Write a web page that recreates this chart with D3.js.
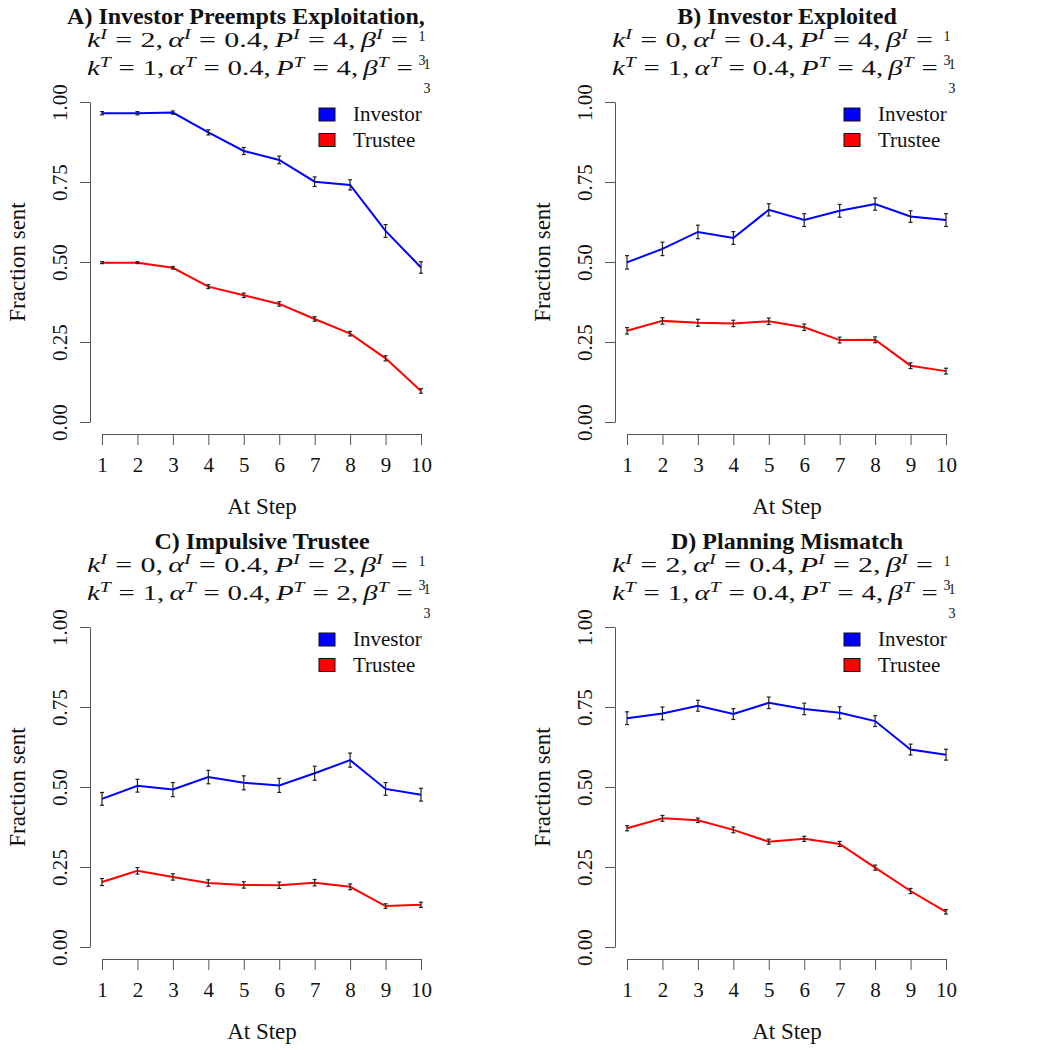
<!DOCTYPE html>
<html>
<head>
<meta charset="utf-8">
<script src="https://cdn.jsdelivr.net/npm/d3@7"></script>
<style>
  body { margin: 0; background: #fff; }
  text { font-family: "Liberation Serif", "Times New Roman", serif; fill: #111; }
</style>
</head>
<body>
<div id="wrapper"></div>
<script>
// data
const steps = [1, 2, 3, 4, 5, 6, 7, 8, 9, 10];
const yTicks = [0, 0.25, 0.5, 0.75, 1];

const investorA    = [0.965, 0.965, 0.967, 0.905, 0.847, 0.819, 0.751, 0.741, 0.597, 0.483];
const investorAErr = [0.005, 0.005, 0.005, 0.008, 0.011, 0.012, 0.015, 0.016, 0.020, 0.018];
const trusteeA     = [0.498, 0.498, 0.482, 0.423, 0.396, 0.369, 0.322, 0.276, 0.199, 0.097];
const trusteeAErr  = [0.003, 0.003, 0.004, 0.006, 0.007, 0.007, 0.007, 0.007, 0.008, 0.007];

const investorB    = [0.499, 0.541, 0.594, 0.575, 0.663, 0.631, 0.660, 0.681, 0.642, 0.631];
const investorBErr = [0.021, 0.021, 0.021, 0.020, 0.019, 0.020, 0.020, 0.019, 0.018, 0.020];
const trusteeB     = [0.285, 0.316, 0.310, 0.308, 0.315, 0.296, 0.256, 0.257, 0.176, 0.159];
const trusteeBErr  = [0.010, 0.010, 0.011, 0.010, 0.010, 0.010, 0.009, 0.009, 0.009, 0.009];

const investorC    = [0.463, 0.504, 0.492, 0.531, 0.513, 0.505, 0.543, 0.584, 0.494, 0.476];
const investorCErr = [0.020, 0.020, 0.022, 0.021, 0.022, 0.022, 0.022, 0.022, 0.020, 0.020];
const trusteeC     = [0.203, 0.238, 0.219, 0.200, 0.194, 0.193, 0.201, 0.188, 0.128, 0.132];
const trusteeCErr  = [0.011, 0.010, 0.010, 0.010, 0.010, 0.010, 0.010, 0.009, 0.007, 0.008];

const investorD    = [0.715, 0.730, 0.754, 0.728, 0.763, 0.744, 0.732, 0.706, 0.617, 0.601];
const investorDErr = [0.020, 0.020, 0.017, 0.017, 0.018, 0.018, 0.019, 0.017, 0.017, 0.017];
const trusteeD     = [0.371, 0.402, 0.396, 0.366, 0.329, 0.338, 0.322, 0.248, 0.175, 0.110];
const trusteeDErr  = [0.008, 0.009, 0.007, 0.009, 0.008, 0.008, 0.008, 0.008, 0.008, 0.007];

const titles = ["A) Investor Preempts Exploitation,", "B) Investor Exploited",
                "C) Impulsive Trustee", "D) Planning Mismatch"];
// [k, alpha, P] for investor (I) and trustee (T)
const paramsI = [[2, 0.4, 4], [0, 0.4, 4], [0, 0.4, 2], [2, 0.4, 2]];
const paramsT = [[1, 0.4, 4], [1, 0.4, 4], [1, 0.4, 2], [1, 0.4, 4]];

const seriesNames = ["Investor", "Trustee"];
const seriesColors = ["#0000ff", "#ff0000"];

const panels = [
  { inv: investorA, invErr: investorAErr, tru: trusteeA, truErr: trusteeAErr },
  { inv: investorB, invErr: investorBErr, tru: trusteeB, truErr: trusteeBErr },
  { inv: investorC, invErr: investorCErr, tru: trusteeC, truErr: trusteeCErr },
  { inv: investorD, invErr: investorDErr, tru: trusteeD, truErr: trusteeDErr }
];

const width = 1050;
const panelSize = 525;

const svg = d3.select("#wrapper")
  .append("svg")
    .attr("width", width)
    .attr("height", width);

const xScale = d3.scaleLinear().domain([1, 10]).range([102, 421]);
const yScale = d3.scaleLinear().domain([0, 1]).range([422, 102]);

// one "k = .., alpha = .., P = .., beta = 1/3" line, left edge at x0
function mathLine(g, x0, baseline, sup, p, lineWidth) {
  const grp = g.append("g").attr("transform", `translate(${x0},0)`);
  const t = grp.append("text")
      .attr("y", baseline)
      .style("font-size", "22px");
  // [text, kind, gap before in px]
  const parts = [
    ["k", "it", 0], [sup, "sup", 0], ["=", "rm", 6], [p[0] + ",", "rm", 6],
    ["α", "it", 4], [sup, "sup", 0], ["=", "rm", 6], [p[1] + ",", "rm", 6],
    ["P", "it", 4], [sup, "sup", 0], ["=", "rm", 6], [p[2] + ",", "rm", 6],
    ["β", "it", 4], [sup, "sup", 0], ["=", "rm", 6]
  ];
  let raised = false;
  parts.forEach(([s, kind, gap]) => {
    const ts = t.append("tspan").text(s);
    if (gap) ts.attr("dx", gap);
    if (kind === "sup") {
      ts.style("font-style", "italic").style("font-size", "15px").attr("dy", -8);
      raised = true;
    } else {
      if (raised) { ts.attr("dy", 8); raised = false; }
      if (kind === "it") ts.style("font-style", "italic");
    }
  });
  const natural = t.node().getBBox().width;
  t.attr("transform", `scale(${lineWidth / natural},1)`);

  const fx = lineWidth + 14;
  grp.append("text").attr("x", fx).attr("y", baseline - 6)
      .attr("text-anchor", "middle").style("font-size", "14px").text("1");
  grp.append("text").attr("x", fx).attr("y", baseline + 18)
      .attr("text-anchor", "middle").style("font-size", "14px").text("3");
}

function drawPanel(i) {
  const ox = (i % 2) * panelSize;
  const oy = Math.floor(i / 2) * panelSize;
  const d = panels[i];
  const g = svg.append("g").attr("transform", `translate(${ox},${oy})`);

  // titles
  const cx = 262;
  g.append("text")
      .attr("x", i === 0 ? cx - 16 : cx).attr("y", 24)
      .attr("text-anchor", "middle")
      .style("font-size", "24px")
      .style("font-weight", "bold")
      .text(titles[i]);
  mathLine(g, 87, 47, "I", paramsI[i], 321);
  mathLine(g, 87, 75, "T", paramsT[i], 326);

  // axes
  const xAxis = g.append("g")
      .attr("transform", "translate(0,434)")
      .call(d3.axisBottom(xScale).tickValues(steps).tickSize(11).tickSizeOuter(0).tickPadding(12));
  xAxis.selectAll("text").style("font-size", "21px").style("font-family", "Liberation Serif").attr("fill", "#111");

  const yAxis = g.append("g")
      .attr("transform", "translate(90,0)")
      .call(d3.axisLeft(yScale).tickValues(yTicks).tickFormat(d3.format(".2f")).tickSize(10).tickSizeOuter(0));
  yAxis.selectAll("text")
      .attr("transform", "rotate(-90)")
      .attr("x", 0).attr("y", -23).attr("dy", 0)
      .attr("text-anchor", "middle")
      .style("font-size", "21px").style("font-family", "Liberation Serif").attr("fill", "#111");

  [xAxis, yAxis].forEach(a => {
    a.selectAll("path, line").attr("stroke", "#555");
  });

  g.append("text")
      .attr("x", 262).attr("y", 514)
      .attr("text-anchor", "middle")
      .style("font-size", "23px")
      .text("At Step");
  g.append("text")
      .attr("transform", "translate(25,262) rotate(-90)")
      .attr("text-anchor", "middle")
      .style("font-size", "23px")
      .text("Fraction sent");

  // lines
  const lineGen = d3.line()
      .x((v, j) => xScale(steps[j]))
      .y(v => yScale(v));
  const series = [[d.inv, d.invErr], [d.tru, d.truErr]];
  series.forEach(([vals], k) => {
    g.append("path")
        .attr("d", lineGen(vals))
        .attr("fill", "none")
        .attr("stroke", seriesColors[k])
        .attr("stroke-width", 2);
  });

  // error bars
  series.forEach(([vals, errs]) => {
    const eb = g.append("g").attr("stroke", "#222").attr("stroke-width", 1.2);
    vals.forEach((v, j) => {
      const x = xScale(steps[j]);
      const y0 = yScale(v - errs[j]);
      const y1 = yScale(v + errs[j]);
      eb.append("line").attr("x1", x).attr("x2", x).attr("y1", y0).attr("y2", y1);
      eb.append("line").attr("x1", x - 2).attr("x2", x + 2).attr("y1", y0).attr("y2", y0);
      eb.append("line").attr("x1", x - 2).attr("x2", x + 2).attr("y1", y1).attr("y2", y1);
    });
  });

  // legend
  seriesNames.forEach((name, k) => {
    g.append("rect")
        .attr("x", 319).attr("y", 108 + k * 25.5)
        .attr("width", 16).attr("height", 13)
        .attr("fill", seriesColors[k])
        .attr("stroke", "#111").attr("stroke-width", 1);
    g.append("text")
        .attr("x", 353).attr("y", 121 + k * 25.5)
        .style("font-size", "21px")
        .text(name);
  });
}

panels.forEach((p, i) => drawPanel(i));
</script>
</body>
</html>
